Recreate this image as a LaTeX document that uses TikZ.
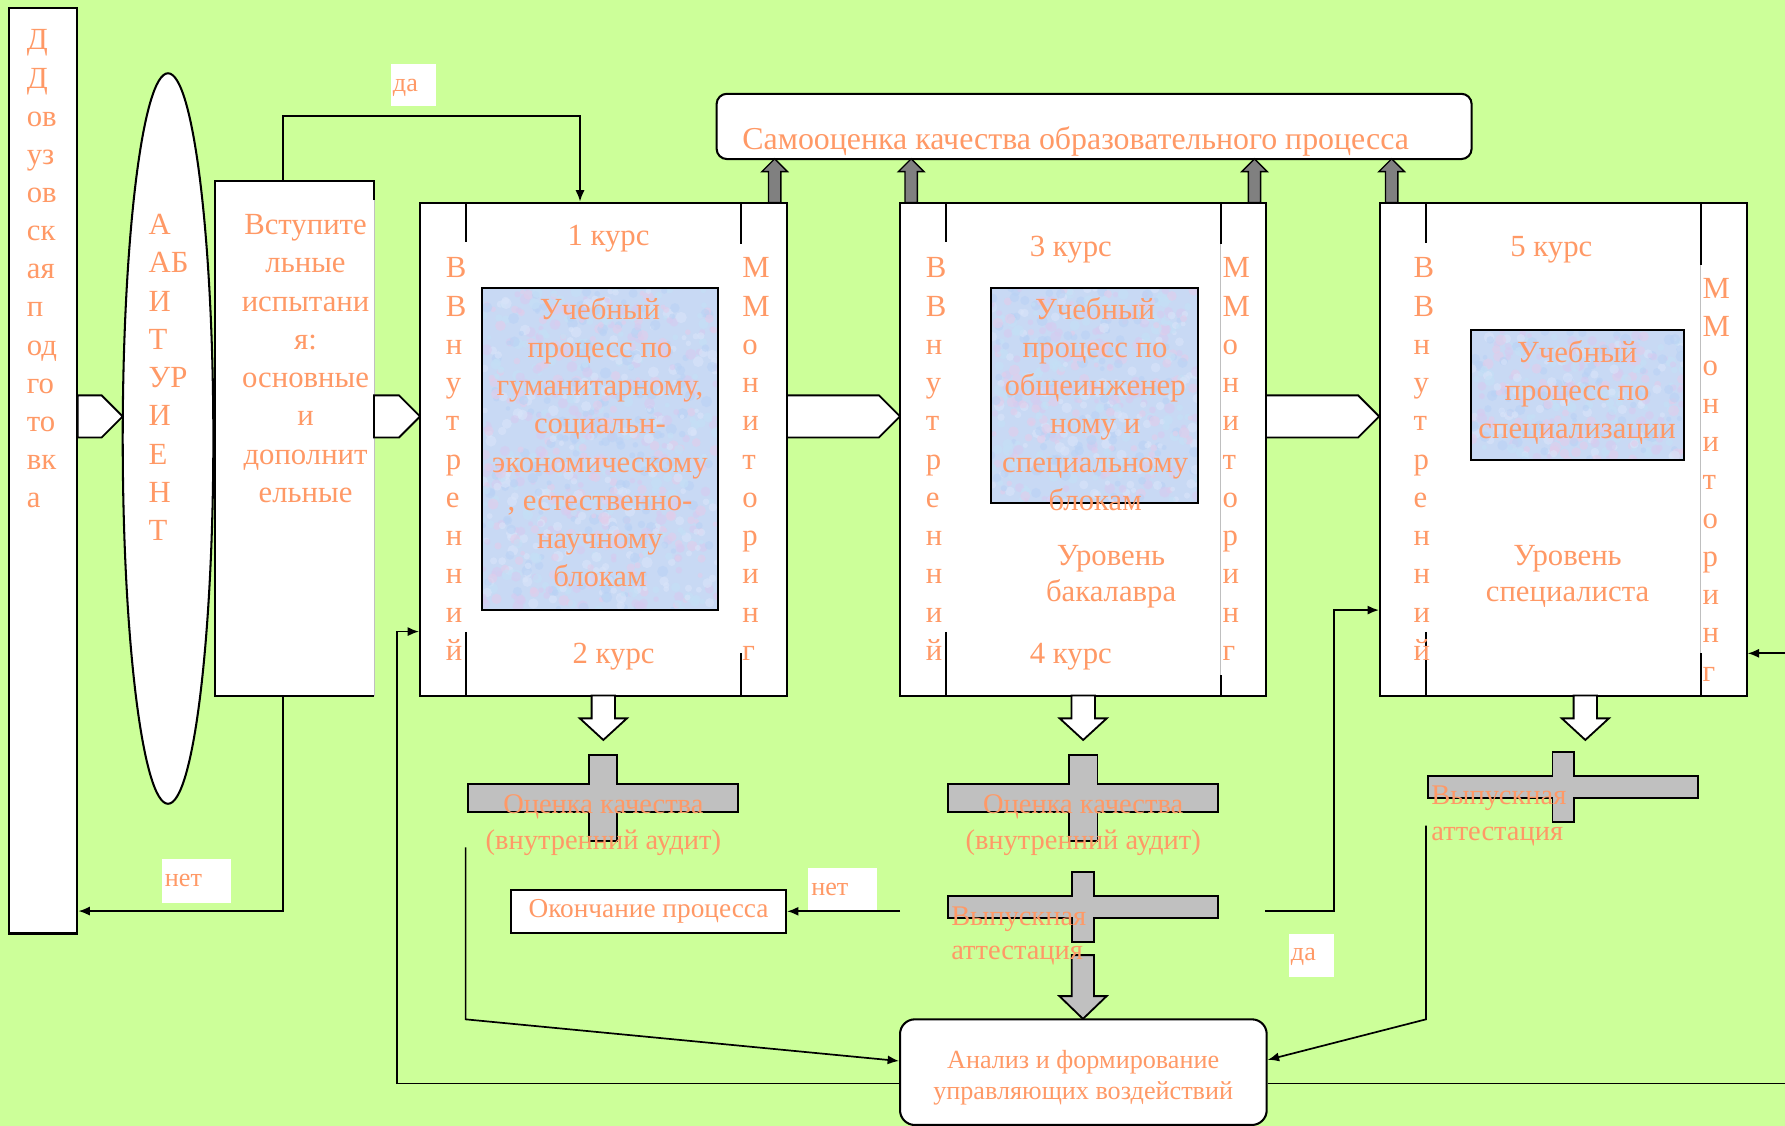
\documentclass[tikz,border=0pt]{standalone}
\usepackage{fontspec}
\setmainfont{Liberation Serif}
\usetikzlibrary{arrows.meta,fit,shapes.geometric}
\definecolor{bg}{HTML}{CCFF99}
\definecolor{salm}{HTML}{FF9966}
\definecolor{texb}{HTML}{C8D9F4}
\definecolor{tc0}{HTML}{B9D2F4}
\definecolor{tc1}{HTML}{D6CBF0}
\definecolor{tc2}{HTML}{E2CDEA}
\definecolor{tc3}{HTML}{C4E0F6}
\definecolor{tc4}{HTML}{D9E4F9}
\definecolor{crossg}{HTML}{C0C0C0}
\definecolor{upg}{HTML}{808080}
% #1 extra style, #2 name, #3 x, #4 first baseline, #5 line step, #6 anchor, #7 list
\newcommand\txtlines[7]{%
  \foreach \tx [count=\ix from 0] in {#7}
    \node[txt,#1,anchor=#6] (#2\ix) at (#3, #4+\ix*#5) {\tx};%
}
\newcommand\blkR[2]{\draw[blk] (#1,347.3) -- (#2-18.5,347.3) -- (#2,365.8) -- (#2-18.5,384.3) -- (#1,384.3) -- cycle;}
\newcommand\blkD[1]{\draw[blk] (#1-10.3,611) -- (#1-10.3,631) -- (#1-20.7,631) -- (#1,650) -- (#1+20.7,631) -- (#1+10.3,631) -- (#1+10.3,611) -- cycle;}
\newcommand\blkU[1]{\draw[ublk] (#1-5.4,178) -- (#1-5.4,150.8) -- (#1-11.3,150.8) -- (#1,139.5) -- (#1+11.3,150.8) -- (#1+5.4,150.8) -- (#1+5.4,178) -- cycle;}
% hx1,hx2,hy1,hy2,vx1,vx2,vy1,vy2
\newcommand\crossshape[8]{\draw[gblk] (#1,#3) -- (#5,#3) -- (#5,#7) -- (#6,#7) -- (#6,#3) -- (#2,#3) -- (#2,#4) -- (#6,#4) -- (#6,#8) -- (#5,#8) -- (#5,#4) -- (#1,#4) -- cycle;}
% marbled texture: x1,y1,x2,y2,count
\newcommand\marble[5]{%
  \begin{scope}
    \clip (#1,#2) rectangle (#3,#4);
    \fill[texb] (#1,#2) rectangle (#3,#4);
    \foreach \n in {1,...,#5}{%
      \pgfmathsetmacro\rx{#1+rnd*(#3-#1)}%
      \pgfmathsetmacro\ry{#2+rnd*(#4-#2)}%
      \pgfmathsetmacro\rr{2+3*rnd}%
      \pgfmathtruncatemacro\rc{int(5*rnd)}%
      \fill[tc\rc, opacity=0.6] (\rx,\ry) circle (\rr pt);
    }
  \end{scope}}
\begin{document}
\begin{tikzpicture}[x=1pt,y=-1pt,
  txt/.style={text=salm, inner sep=0pt, font=\fontsize{27}{33.6}\selectfont},
  big/.style={font=\fontsize{28}{33.6}\selectfont},
  sm/.style={font=\fontsize{25}{30}\selectfont},
  okf/.style={font=\fontsize{24}{29}\selectfont},
  xs/.style={font=\fontsize{23}{28}\selectfont},
  wbox/.style={draw=black, line width=1.8pt, fill=white, inner sep=0pt},
  tbox/.style={draw=black, line width=1.8pt, inner sep=0pt},
  lbl/.style={fill=white, inner sep=0pt},
  conn/.style={line width=1.5pt},
  arr/.style={line width=1.5pt, -{Latex[length=10pt,width=8pt]}},
  blk/.style={draw=black, line width=1.6pt, fill=white, line join=miter},
  gblk/.style={draw=black, line width=1.6pt, fill=crossg, line join=miter},
  ublk/.style={draw=black, line width=1.2pt, fill=upg, line join=miter},
  inl/.style={line width=1.8pt},
  faint/.style={line width=0.5pt, black!25}
]
\pgfmathsetseed{7}
\fill[bg] (0,0) rectangle (1568,989);
\useasboundingbox (0,0) rectangle (1568,989);

% ---- left column
\node[wbox, fit={(8,7) (68,820)}] (dov) {};
\txtlines{}{dv}{23.4}{43.9}{33.5}{base west}{Д,Д,ов,уз,ов,ск,ая,п,од,го,то,вк,а}

\node[wbox, ellipse, minimum width=79.6pt, minimum height=641.7pt] (abit) at (147.6,385.2) {};
\txtlines{}{ab}{130.3}{206.1}{33.6}{base west}{А,АБ,И,Т,УР,И,Е,Н,Т}

\node[fill=white, inner sep=0pt, fit={(188.9,159) (328.5,611)}] (vst) {};
\draw[faint] (vst.south east) -- (vst.north east |- 0,175.7);
\draw[inl] (vst.north east |- 0,175.7) -- (vst.north east) -- (vst.north west) -- (vst.south west) -- (vst.south east);
\txtlines{}{vs}{268.4}{206.1}{33.6}{base}{Вступите,льные,испытани,я:,основные,и,дополнит,ельные}

\blkR{68.2}{107.8}
\blkR{328.5}{369}
\blkR{691}{790.6}
\blkR{1112}{1211.5}

% ---- self-assessment box
\node[wbox, rounded corners=9pt, fit={(629.5,82.4) (1292.7,139.7)}] (samo) {};
\node[txt, big, anchor=base west] (samot) at (652,131) {Самооценка качества образовательного процесса};

% ---- course 1
\node[wbox, fit={(369,178) (691,611)}] (c1) {};
\draw[inl] (409.4,178) -- (409.4,213) (409.4,555) -- (409.4,611);
\draw[inl] (650.6,178) -- (650.6,214.5) (650.6,574) -- (650.6,611);
\marble{423.7}{253.3}{630.4}{535.8}{900}
\node[tbox, fit={(423.7,253.3) (630.4,535.8)}] (k1) {};
\node[txt, anchor=base] (c1a) at (534.5,216) {1 курс};
\node[txt, anchor=base] (c1b) at (539,582.6) {2 курс};
\txtlines{}{k1t}{527}{280.4}{33.6}{base}{Учебный,процесс по,{гуманитарному,},социальн-,экономическому,{, естественно-},научному,блокам}
\txtlines{}{c1v}{391.5}{244}{33.6}{base west}{В,В,н,у,т,р,е,н,н,и,й}
\txtlines{}{c1m}{652}{244}{33.6}{base west}{М,М,о,н,и,т,о,р,и,н,г}

% ---- course 3
\node[wbox, fit={(790.6,178) (1112,611)}] (c3) {};
\draw[inl] (831,178) -- (831,213) (831,555) -- (831,611);
\draw[faint] (1072.3,214.5) -- (1072.3,593);
\draw[inl] (1072.3,178) -- (1072.3,214.5) (1072.3,593) -- (1072.3,611);
\marble{870.5}{253.3}{1052}{441.9}{550}
\node[tbox, fit={(870.5,253.3) (1052,441.9)}] (k3) {};
\node[txt, anchor=base] (c3a) at (940.7,225.5) {3 курс};
\node[txt, anchor=base] (c3b) at (940.7,582.6) {4 курс};
\txtlines{}{k3t}{962}{280.4}{33.6}{base}{Учебный,процесс по,общеинженер,ному и,специальному,блокам}
\txtlines{}{c3u}{976}{496.8}{31.2}{base}{Уровень,бакалавра}
\txtlines{}{c3v}{813}{244}{33.6}{base west}{В,В,н,у,т,р,е,н,н,и,й}
\txtlines{}{c3m}{1073.7}{244}{33.6}{base west}{М,М,о,н,и,т,о,р,и,н,г}

% ---- course 5
\node[wbox, fit={(1212.2,178) (1534.3,611)}] (c5) {};
\draw[inl] (1252.3,178) -- (1252.3,213.5) (1252.3,555) -- (1252.3,611);
\draw[faint] (1494,232.8) -- (1494,574);
\draw[inl] (1494,178) -- (1494,232.8) (1494,574) -- (1494,611);
\marble{1292.2}{290.2}{1479.3}{404.4}{350}
\node[tbox, fit={(1292.2,290.2) (1479.3,404.4)}] (k5) {};
\node[txt, anchor=base] (c5a) at (1362.7,225) {5 курс};
\txtlines{}{k5t}{1385.4}{318.6}{33.5}{base}{Учебный,процесс по,специализации}
\txtlines{}{c5u}{1377}{496.8}{31.2}{base}{Уровень,специалиста}
\txtlines{}{c5v}{1241.5}{244}{33.6}{base west}{В,В,н,у,т,р,е,н,н,и,й}
\txtlines{}{c5m}{1495.4}{262.4}{33.6}{base west}{М,М,о,н,и,т,о,р,и,н,г}

% ---- up arrows to self-assessment
\blkU{680.5}
\blkU{800.4}
\blkU{1102}
\blkU{1222.5}

% ---- down arrows
\blkD{530}
\blkD{951.5}
\blkD{1392.6}

% ---- crosses
\crossshape{411.4}{648.6}{689}{713}{517.4}{542.3}{663.2}{738.5}
\crossshape{832.8}{1069.6}{689}{713}{939}{964}{663.2}{738.5}
\crossshape{833}{1069.6}{787}{806.7}{941.4}{961}{766.3}{827.2}
\crossshape{1254.7}{1491.4}{681.6}{701.3}{1363.7}{1382.5}{660.3}{722.4}
\draw[gblk] (941.4,839) -- (941.4,875) -- (930.6,875) -- (951.3,895) -- (972.1,875) -- (961,875) -- (961,839) -- cycle;

\txtlines{sm}{q1}{530}{715}{31}{base}{Оценка качества,(внутренний аудит)}
\txtlines{sm}{q2}{951.5}{715}{31}{base}{Оценка качества,(внутренний аудит)}
\txtlines{sm}{v3}{835.4}{813.4}{29.3}{base west}{Выпускная,аттестация}
\txtlines{sm}{v5}{1257.2}{707}{30.9}{base west}{Выпускная,аттестация}

% ---- end and analysis boxes
\node[wbox, fit={(449,781.8) (690.5,819.9)}] (okon) {};
\node[txt, okf, anchor=base] (okont) at (569.7,806) {Окончание процесса};
\node[wbox, rounded corners=13pt, fit={(790.6,895.4) (1112.7,988.2)}] (anal) {};
\txtlines{xs}{an}{951.5}{938.5}{27.2}{base}{Анализ и формирование,управляющих воздействий}

% ---- labels
\node[lbl, fit={(343.5,55.9) (383,93.5)}] (da1) {};
\node[txt, xs, anchor=base west] (da1t) at (345,80) {да};
\node[lbl, fit={(142.2,754.6) (202.7,792.9)}] (net1) {};
\node[txt, xs, anchor=base west] (net1t) at (144.7,778.9) {нет};
\node[lbl, fit={(709.8,762.8) (770,800.8)}] (net2) {};
\node[txt, xs, anchor=base west] (net2t) at (712.5,786.8) {нет};
\node[lbl, fit={(1132.6,820) (1172,858)}] (da2) {};
\node[txt, xs, anchor=base west] (da2t) at (1133.8,843.3) {да};

% ---- connectors
\coordinate (p1) at (248.3,102);
\coordinate (p2) at (509.5,102);
\draw[arr] (vst.north -| p1) -- (p1) -- (p2) -- (c1.north -| p2);
\coordinate (p3) at (248.6,800.3);
\draw[arr] (vst.south -| p3) -- (p3) -- (p3 -| dov.east);
\coordinate (p4) at (349,951.7);
\coordinate (p5) at (349,554.8);
\draw[arr] (anal.west |- p4) -- (p4) -- (p5) -- (p5 -| c1.west);
\coordinate (p6) at (409,744.3);
\coordinate (p7) at (409,895.4);
\draw[arr] (p6) -- (p7) -- (anal.west |- 0,932);
\coordinate (p8) at (790.6,800.5);
\draw[arr] (p8) -- (okon.east |- p8);
\coordinate (p9) at (1111.6,800.3);
\coordinate (p10) at (1172,800.3);
\coordinate (p11) at (1172,535.9);
\draw[arr] (p9) -- (p10) -- (p11) -- (p11 -| c5.west);
\coordinate (p12) at (1252.6,725.3);
\coordinate (p13) at (1252.6,895.4);
\draw[arr] (p12) -- (p13) -- (anal.east |- 0,931);
\coordinate (p14) at (1568,951.7);
\draw[conn] (anal.east |- p14) -- (p14);
\coordinate (p15) at (1568,573.9);
\draw[arr] (p15) -- (p15 -| c5.east);
\end{tikzpicture}
\end{document}
